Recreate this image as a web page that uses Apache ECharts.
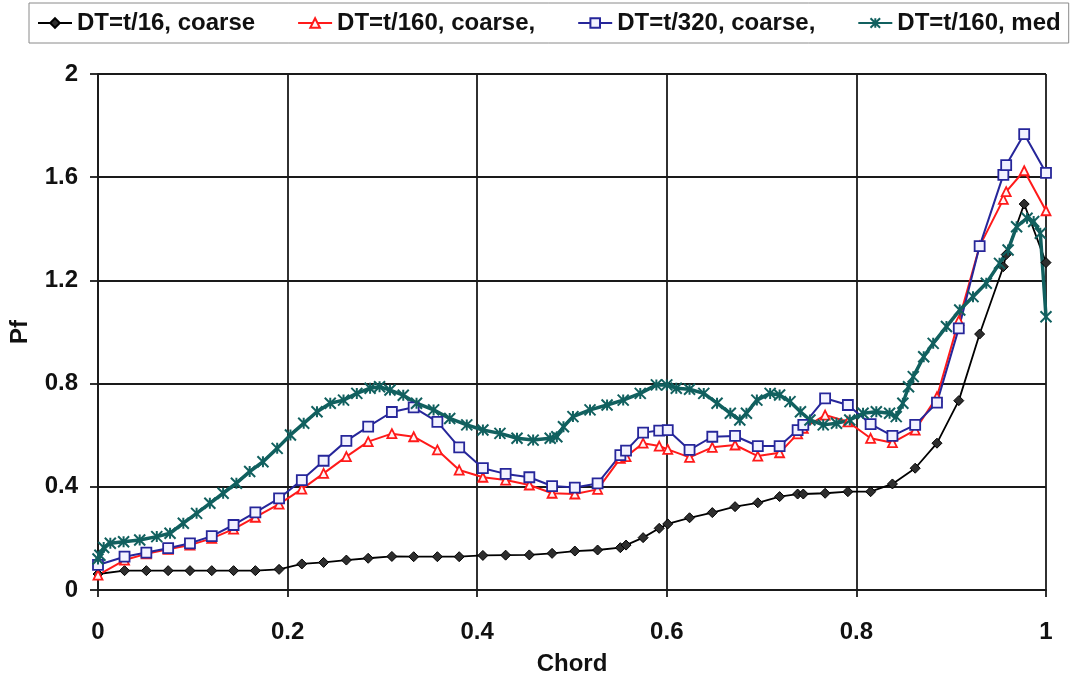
<!DOCTYPE html>
<html>
<head>
<meta charset="utf-8">
<script src="https://cdn.jsdelivr.net/npm/echarts@6/dist/echarts.min.js"></script>
<style>
html, body { margin: 0; padding: 0; background: #ffffff; }
#chart { width: 1077px; height: 683px; }
</style>
</head>
<body>
<div id="chart"></div>
<script>
// chord positions shared by the three coarse runs
const chord = [0, 0.028, 0.051, 0.074, 0.097, 0.120, 0.143, 0.166, 0.191, 0.215, 0.238, 0.262,
    0.285, 0.310, 0.333, 0.358, 0.381, 0.406, 0.430, 0.455, 0.479, 0.503, 0.527, 0.551, 0.557,
    0.575, 0.592, 0.601, 0.624, 0.648, 0.672, 0.696, 0.719, 0.738, 0.744, 0.767, 0.791, 0.815,
    0.838, 0.862, 0.885, 0.908, 0.930, 0.955, 0.958, 0.977, 1.000];

const pfT16 = [0.062, 0.075, 0.075, 0.075, 0.075, 0.075, 0.075, 0.075, 0.080, 0.101, 0.107, 0.116,
    0.123, 0.130, 0.129, 0.129, 0.129, 0.134, 0.135, 0.136, 0.142, 0.151, 0.155, 0.164, 0.174,
    0.203, 0.239, 0.256, 0.280, 0.300, 0.323, 0.338, 0.362, 0.372, 0.372, 0.375, 0.381, 0.381,
    0.411, 0.472, 0.569, 0.734, 0.992, 1.253, 1.300, 1.496, 1.269];

const pfT160 = [0.058, 0.116, 0.140, 0.158, 0.174, 0.200, 0.236, 0.282, 0.333, 0.391, 0.452, 0.517,
    0.575, 0.606, 0.594, 0.543, 0.465, 0.437, 0.426, 0.407, 0.375, 0.372, 0.390, 0.510, 0.517,
    0.569, 0.558, 0.545, 0.514, 0.553, 0.562, 0.519, 0.532, 0.605, 0.627, 0.678, 0.652, 0.588,
    0.571, 0.620, 0.749, 1.044, 1.333, 1.514, 1.544, 1.625, 1.470];

const pfT320 = [0.097, 0.129, 0.145, 0.162, 0.181, 0.209, 0.252, 0.301, 0.355, 0.426, 0.501, 0.578,
    0.633, 0.690, 0.708, 0.652, 0.553, 0.472, 0.450, 0.437, 0.403, 0.397, 0.413, 0.523, 0.540,
    0.610, 0.618, 0.620, 0.543, 0.594, 0.597, 0.558, 0.558, 0.620, 0.640, 0.743, 0.717, 0.643,
    0.597, 0.640, 0.726, 1.014, 1.333, 1.609, 1.647, 1.767, 1.617];

// medium mesh run has its own, denser chord positions
const medChord = [0, 0.002, 0.006, 0.013, 0.027, 0.044, 0.062, 0.076, 0.090, 0.104, 0.118, 0.132,
    0.146, 0.160, 0.174, 0.189, 0.203, 0.217, 0.231, 0.245, 0.259, 0.273, 0.287, 0.297, 0.308,
    0.322, 0.336, 0.354, 0.371, 0.389, 0.406, 0.424, 0.442, 0.459, 0.477, 0.484, 0.491, 0.501,
    0.519, 0.537, 0.554, 0.572, 0.589, 0.600, 0.610, 0.624, 0.639, 0.653, 0.667, 0.677, 0.684,
    0.695, 0.709, 0.719, 0.730, 0.741, 0.751, 0.765, 0.779, 0.793, 0.807, 0.821, 0.835, 0.842,
    0.849, 0.855, 0.860, 0.871, 0.881, 0.895, 0.909, 0.923, 0.937, 0.951, 0.960, 0.969, 0.980,
    0.987, 0.994, 1.000];

const pfMed = [0.120, 0.135, 0.165, 0.181, 0.187, 0.194, 0.207, 0.220, 0.259, 0.297, 0.336, 0.375,
    0.414, 0.459, 0.497, 0.549, 0.601, 0.646, 0.691, 0.724, 0.736, 0.762, 0.782, 0.788, 0.775,
    0.755, 0.724, 0.698, 0.665, 0.640, 0.620, 0.607, 0.588, 0.581, 0.588, 0.594, 0.633, 0.672,
    0.698, 0.717, 0.736, 0.762, 0.795, 0.795, 0.782, 0.778, 0.762, 0.724, 0.685, 0.659, 0.685,
    0.736, 0.762, 0.756, 0.730, 0.691, 0.659, 0.640, 0.646, 0.659, 0.685, 0.691, 0.685, 0.672,
    0.724, 0.788, 0.827, 0.904, 0.956, 1.021, 1.085, 1.137, 1.189, 1.266, 1.318, 1.408, 1.441,
    1.428, 1.383, 1.059];

const xTicks = { min: 0, max: 1, step: 0.2 };
const yTicks = { min: 0, max: 2, step: 0.4 };

const pairs = (xs, ys) => xs.map((x, i) => [x, ys[i]]);

const font = 'Liberation Sans, Arial, sans-serif';
const gridColor = '#1a1a1a';
const labelStyle = { fontFamily: font, fontWeight: 'bold', fontSize: 24, color: '#111' };

const option = {
    backgroundColor: '#ffffff',
    animation: false,
    legend: {
        left: 29,
        top: 3,
        padding: [8, 8, 8, 8],
        borderColor: '#8a8a8a',
        borderWidth: 1,
        itemWidth: 34,
        itemHeight: 12,
        itemGap: 42,
        textStyle: labelStyle
    },
    grid: {
        left: 98,
        right: 31,
        top: 74,
        bottom: 93
    },
    xAxis: {
        type: 'value',
        min: xTicks.min,
        max: xTicks.max,
        interval: xTicks.step,
        name: 'Chord',
        nameLocation: 'middle',
        nameGap: 62,
        nameTextStyle: labelStyle,
        axisLine: { lineStyle: { color: gridColor, width: 1.8 } },
        axisTick: { show: true, length: 7, lineStyle: { color: gridColor, width: 1.8 } },
        axisLabel: Object.assign({ margin: 30 }, labelStyle),
        splitLine: { show: true, lineStyle: { color: gridColor, width: 1.8 } }
    },
    yAxis: {
        type: 'value',
        min: yTicks.min,
        max: yTicks.max,
        interval: yTicks.step,
        name: 'Pf',
        nameLocation: 'middle',
        nameRotate: 90,
        nameGap: 66,
        nameTextStyle: labelStyle,
        axisLine: { show: true, lineStyle: { color: gridColor, width: 1.8 } },
        axisTick: { show: true, length: 8, lineStyle: { color: gridColor, width: 1.8 } },
        axisLabel: Object.assign({ margin: 20 }, labelStyle),
        splitLine: { show: true, lineStyle: { color: gridColor, width: 1.8 } }
    },
    series: [
        {
            name: 'DT=t/16, coarse',
            type: 'line',
            data: pairs(chord, pfT16),
            symbol: 'diamond',
            symbolSize: 10,
            lineStyle: { color: '#000000', width: 1.8 },
            itemStyle: { color: '#2e2e2e', borderColor: '#000000', borderWidth: 1 }
        },
        {
            name: 'DT=t/160, coarse,',
            type: 'line',
            data: pairs(chord, pfT160),
            symbol: 'triangle',
            symbolSize: 9,
            lineStyle: { color: '#ff1a1a', width: 2 },
            itemStyle: { color: '#fff4f4', borderColor: '#ff1a1a', borderWidth: 1.8 }
        },
        {
            name: 'DT=t/320, coarse,',
            type: 'line',
            data: pairs(chord, pfT320),
            symbol: 'rect',
            symbolSize: 10,
            lineStyle: { color: '#26269a', width: 2 },
            itemStyle: { color: '#f2f2ff', borderColor: '#26269a', borderWidth: 1.8 }
        },
        {
            name: 'DT=t/160, med',
            type: 'line',
            data: pairs(medChord, pfMed),
            symbol: 'path://M0 0L10 10M10 0L0 10M5 0L5 10',
            symbolSize: 11,
            lineStyle: { color: '#11605f', width: 3.5 },
            itemStyle: { color: '#11605f', borderColor: '#11605f', borderWidth: 2 }
        }
    ]
};

echarts.init(document.getElementById('chart')).setOption(option);
</script>
</body>
</html>
